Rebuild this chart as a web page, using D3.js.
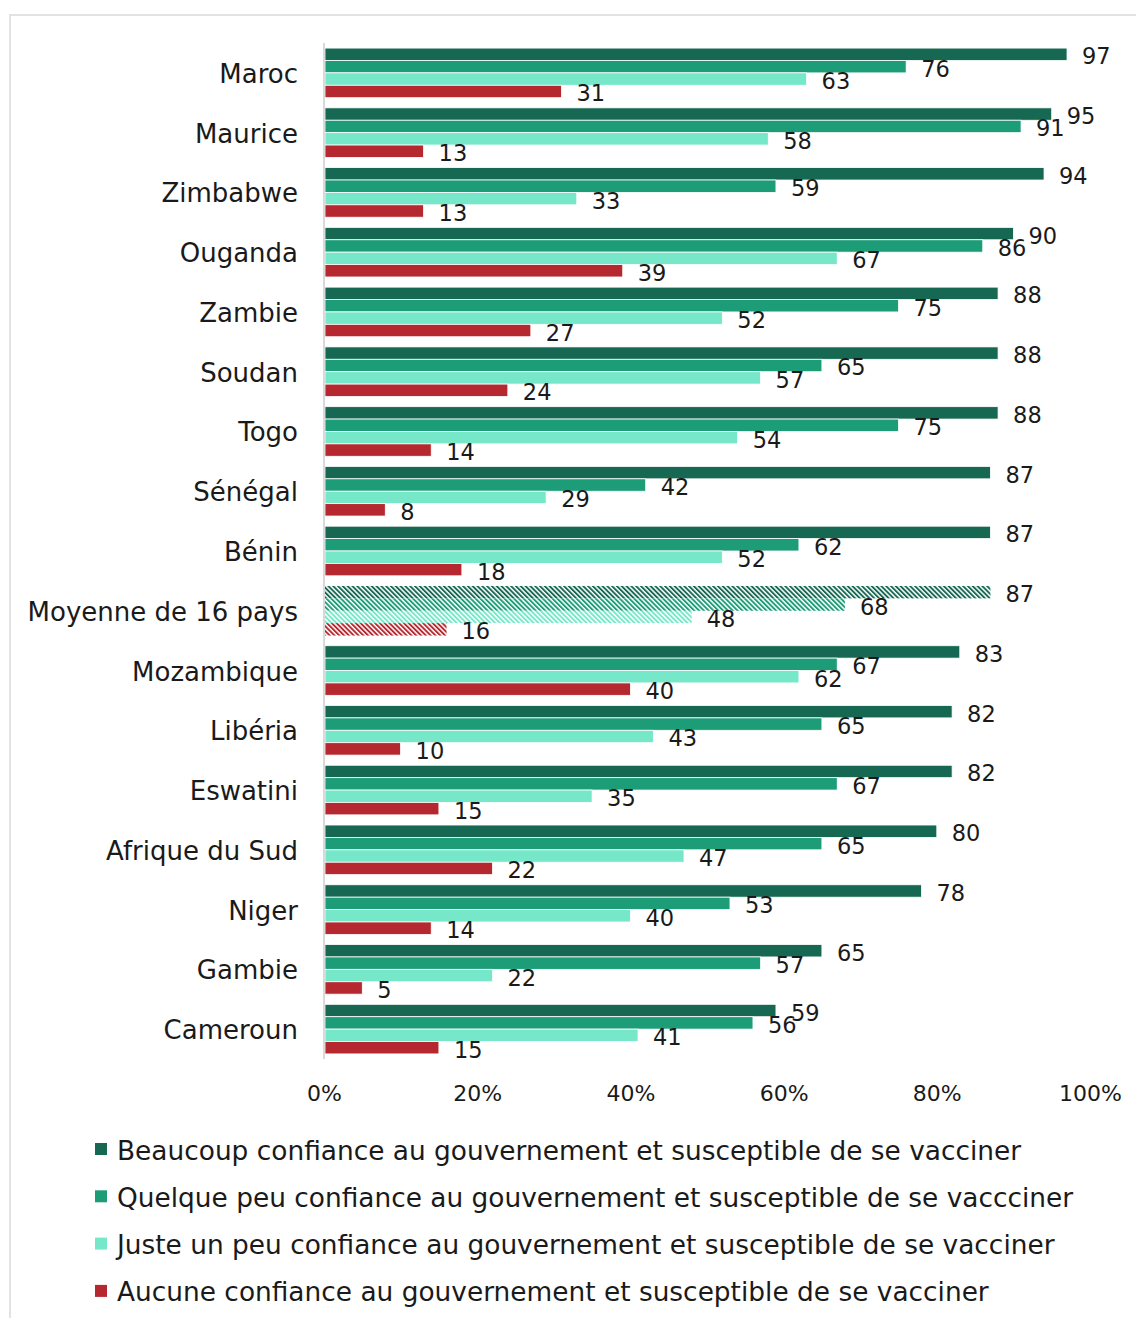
<!DOCTYPE html>
<html>
<head>
<meta charset="utf-8">
<script src="https://cdn.jsdelivr.net/npm/d3@7"></script>
<style>
  html, body { margin: 0; padding: 0; background: #fff; }
  svg { display: block; }
  text { font-family: "DejaVu Sans", sans-serif; fill: #1a1a1a; }
</style>
</head>
<body>
<svg id="chart" width="1136" height="1318"></svg>
<script>
// Pays (et moyenne), de haut en bas
const countries = ["Maroc", "Maurice", "Zimbabwe", "Ouganda", "Zambie", "Soudan", "Togo",
  "Sénégal", "Bénin", "Moyenne de 16 pays", "Mozambique", "Libéria", "Eswatini",
  "Afrique du Sud", "Niger", "Gambie", "Cameroun"];

// % susceptibles de se vacciner selon le niveau de confiance au gouvernement
const beaucoup  = [97, 95, 94, 90, 88, 88, 88, 87, 87, 87, 83, 82, 82, 80, 78, 65, 59];
const quelque   = [76, 91, 59, 86, 75, 65, 75, 42, 62, 68, 67, 65, 67, 65, 53, 57, 56];
const justeUn   = [63, 58, 33, 67, 52, 57, 54, 29, 52, 48, 62, 43, 35, 47, 40, 22, 41];
const aucune    = [31, 13, 13, 39, 27, 24, 14,  8, 18, 16, 40, 10, 15, 22, 14,  5, 15];

const seriesNames = [
  "Beaucoup confiance au gouvernement et susceptible de se vacciner",
  "Quelque peu confiance au gouvernement et susceptible de se vaccciner",
  "Juste un peu confiance au gouvernement et susceptible de se vacciner",
  "Aucune confiance au gouvernement et susceptible de se vacciner"
];
const seriesColors = ["#166852", "#1c9d78", "#76e8c9", "#b5282f"];
const tickValues = [0, 20, 40, 60, 80, 100];
const averageLabel = "Moyenne de 16 pays";

const series = [beaucoup, quelque, justeUn, aucune];

const svg = d3.select("#chart");

// Cadre du graphique
svg.append("rect")
  .attr("x", 10).attr("y", 15)
  .attr("width", 1140).attr("height", 1320)
  .attr("fill", "#fff")
  .attr("stroke", "#e2e2e2").attr("stroke-width", 2);

// Motifs hachurés pour la moyenne
const defs = svg.append("defs");
seriesColors.forEach((c, i) => {
  const p = defs.append("pattern")
    .attr("id", "hatch" + i)
    .attr("patternUnits", "userSpaceOnUse")
    .attr("width", 3.4).attr("height", 4)
    .attr("patternTransform", "rotate(-45)");
  p.append("rect").attr("width", 3.4).attr("height", 4).attr("fill", "#fff");
  p.append("rect").attr("width", 1.9).attr("height", 4).attr("fill", c);
});

const x = d3.scaleLinear().domain([0, 100]).range([324, 1090]);
const y = d3.scaleBand().domain(countries).range([43, 1059])
  .paddingInner(0.17).paddingOuter(0.085);
const ySub = d3.scaleBand().domain(d3.range(4)).range([0, y.bandwidth()]);

// Barres
const groups = svg.append("g").selectAll("g")
  .data(countries)
  .join("g")
  .attr("transform", d => `translate(0,${y(d)})`);

groups.each(function(country, ci) {
  const g = d3.select(this);
  const isAvg = country === averageLabel;
  series.forEach((vals, si) => {
    const v = vals[ci];
    g.append("rect")
      .attr("x", x(0) + 1)
      .attr("y", ySub(si))
      .attr("width", x(v) - x(0) - 1)
      .attr("height", ySub.bandwidth())
      .attr("fill", isAvg ? `url(#hatch${si})` : seriesColors[si])
      .attr("stroke", "#fff").attr("stroke-width", isAvg ? 0 : 0.8);
  });
  series.forEach((vals, si) => {
    const v = vals[ci];
    g.append("text")
      .attr("x", x(v) + 15)
      .attr("y", ySub(si) + ySub.bandwidth() / 2 + 2)
      .attr("dominant-baseline", "central")
      .attr("font-size", 22.5)
      .text(v);
  });
});

// Axe vertical
svg.append("line")
  .attr("x1", 324).attr("x2", 324)
  .attr("y1", 43).attr("y2", 1059)
  .attr("stroke", "#d9d9d9").attr("stroke-width", 2);

// Étiquettes des pays
svg.append("g").selectAll("text")
  .data(countries)
  .join("text")
  .attr("x", 298)
  .attr("y", d => y(d) + y.bandwidth() / 2 + 1)
  .attr("dominant-baseline", "central")
  .attr("text-anchor", "end")
  .attr("font-size", 26)
  .text(d => d);

// Axe des x
const xAxis = svg.append("g")
  .attr("transform", "translate(0,1078)")
  .call(d3.axisBottom(x).tickValues(tickValues).tickSize(0).tickFormat(d => d + "%"));
xAxis.select(".domain").remove();
xAxis.selectAll("text")
  .attr("font-size", 22)
  .attr("font-family", "DejaVu Sans, sans-serif")
  .attr("fill", "#1a1a1a")
  .attr("dy", "0.9em");

// Légende
const legend = svg.append("g").selectAll("g")
  .data(seriesNames)
  .join("g")
  .attr("transform", (d, i) => `translate(95,${1149 + i * 47.3})`);
legend.append("rect")
  .attr("x", 0).attr("y", -6)
  .attr("width", 12).attr("height", 12)
  .attr("fill", (d, i) => seriesColors[i]);
legend.append("text")
  .attr("x", 22).attr("y", 1)
  .attr("dominant-baseline", "central")
  .attr("font-size", 26.4)
  .text(d => d);
</script>
</body>
</html>
